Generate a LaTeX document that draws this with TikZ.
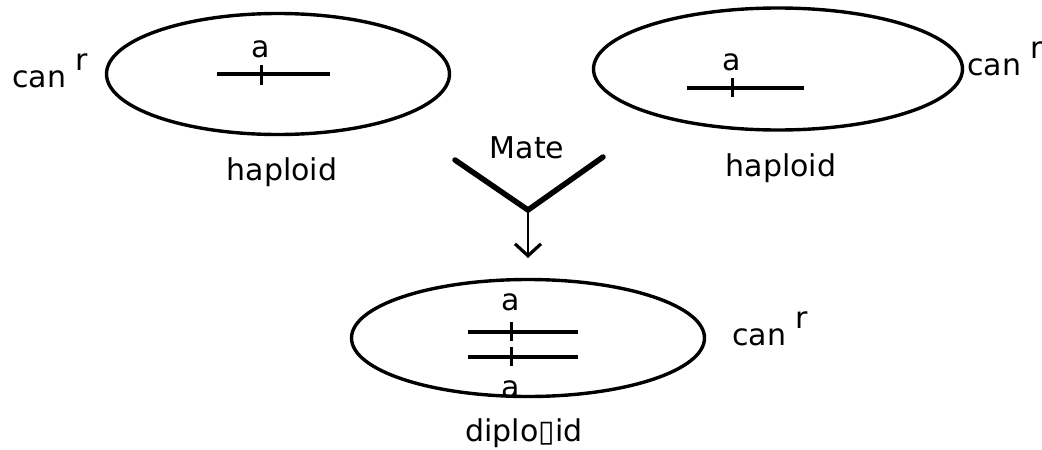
\documentclass[tikz,border=0pt]{standalone}
\usepackage{fontspec}
\setmainfont{DejaVu Sans}
\usetikzlibrary{shapes.geometric,arrows.meta}
\newcommand{\canr}{can\hspace{9pt}\raisebox{17pt}{r}}
\begin{document}
\begin{tikzpicture}[x=1pt,y=-1pt,
  cell/.style={draw, line width=3.4pt, ellipse, inner sep=0pt},
  lbl/.style={inner sep=0pt, font=\fontsize{30}{36}\selectfont},
  chrom/.style={line width=3.4pt},
  centromere/.style={line width=3pt},
  vee/.style={line width=5.5pt, line cap=round, line join=miter},
  stem/.style={line width=2.8pt, -{Straight Barb[length=12pt,width=26pt,line width=3.2pt]}},
]
\useasboundingbox (0,0) rectangle (1042,450);
% cells
\node[cell, minimum width=343pt, minimum height=121pt] (L) at (278,74) {};
\node[cell, minimum width=369pt, minimum height=122pt] (R) at (778,69) {};
\node[cell, minimum width=353pt, minimum height=117pt] (D) at (528,338) {};
% chromosomes, left cell
\draw[chrom] (217,74) -- (330,74);
\draw[centromere] (261,65) -- (261,85);
% right cell
\draw[chrom] (687,88) -- (804,88);
\draw[centromere] (732,78) -- (732,97);
% diploid cell
\draw[chrom] (468,332) -- (578,332);
\draw[centromere] (511,322) -- (511,341);
\draw[chrom] (468,357) -- (578,357);
\draw[centromere] (511,347) -- (511,366);
% labels
\node[lbl, anchor=base] (aL) at (261,57) {a};
\node[lbl, anchor=base] (aR) at (732,70) {a};
\node[lbl, anchor=base] (aD1) at (511,310) {a};
\node[lbl, anchor=base] (aD2) at (511,397) {a};
\node[lbl, anchor=base] (hL) at (282,180) {haploid};
\node[lbl, anchor=base] (hR) at (781,176) {haploid};
\node[lbl, anchor=base] (dip) at (524,441) {diplo▯id};
\node[lbl, anchor=base] (mate) at (527,158) {Mate};
\node[lbl, anchor=base west] (cL) at (12,87) {\canr};
\node[lbl, anchor=base west] (cR) at (967,75) {\canr};
\node[lbl, anchor=base west] (cD) at (732,345) {\canr};
% mating
\coordinate (vl) at (455,160);
\coordinate (vj) at (528,210);
\coordinate (vr) at (603,157);
\coordinate (tip) at (528,258);
\draw[vee] (vl) -- (vj) -- (vr);
\draw[stem] (vj) -- (tip);
\end{tikzpicture}
\end{document}
